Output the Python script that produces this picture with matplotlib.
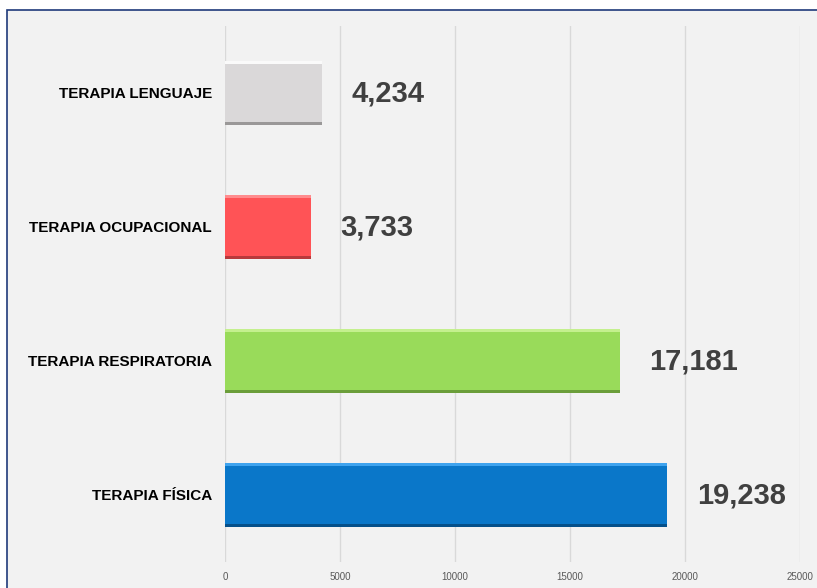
import matplotlib.pyplot as plt
from matplotlib.patches import Rectangle

categories = ['TERAPIA FÍSICA', 'TERAPIA RESPIRATORIA', 'TERAPIA OCUPACIONAL', 'TERAPIA LENGUAJE']
values = [19238, 17181, 3733, 4234]
colors = ['#0A77C9', '#99DB5A', '#FF5356', '#DAD8D9']
tops = ['#3FA3EE', '#C4F08E', '#FF8C8E', '#FAFAFA']
shades = ['#05508A', '#6B9E3A', '#B8393B', '#9A9898']
xticks = [0, 5000, 10000, 15000, 20000, 25000]

plt.rcParams['font.family'] = ['Liberation Sans', 'DejaVu Sans']

fig = plt.figure(figsize=(8.17, 5.88), dpi=100, facecolor='white')
# framed panel, behind the axes
fig.patches.append(Rectangle((7 / 817, -0.1), 1.1, (588 - 10) / 588 + 0.1,
                             transform=fig.transFigure, facecolor='#F2F2F2',
                             edgecolor='#1F3A7A', linewidth=1.2, zorder=-5))

ax = fig.add_axes([225 / 817, 26 / 588, 575 / 817, (562 - 26) / 588])
ax.set_facecolor('none')

y = list(range(len(categories)))
h = 0.48
ax.barh(y, values, height=h, color=colors, zorder=3)
# bevel edges
ax.barh([v + h / 2 - 0.012 for v in y], values, height=0.024, color=tops, zorder=4)
ax.barh([v - h / 2 + 0.01 for v in y], values, height=0.02, color=shades, zorder=4)

for yi, v in zip(y, values):
    ax.annotate(f'{v:,}', (v, yi), xytext=(21, 0), textcoords='offset points',
                ha='left', va='center', fontsize=21, fontweight='bold',
                color='#404040')

ax.set_xlim(0, 25000)
ax.set_ylim(-0.5, len(categories) - 0.5)
ax.set_xticks(xticks)
ax.set_xticklabels([str(t) for t in xticks], fontsize=7, color='#595959')
ax.set_yticks(y)
ax.set_yticklabels(categories, fontsize=11, fontweight='bold', color='black')
ax.tick_params(axis='both', length=0)
ax.tick_params(axis='y', pad=9.5)
ax.tick_params(axis='x', pad=7)
ax.grid(axis='x', color='#D9D9D9', linewidth=1, zorder=0)
for s in ax.spines.values():
    s.set_visible(False)

fig.savefig('out.png', dpi=100, facecolor='white')
